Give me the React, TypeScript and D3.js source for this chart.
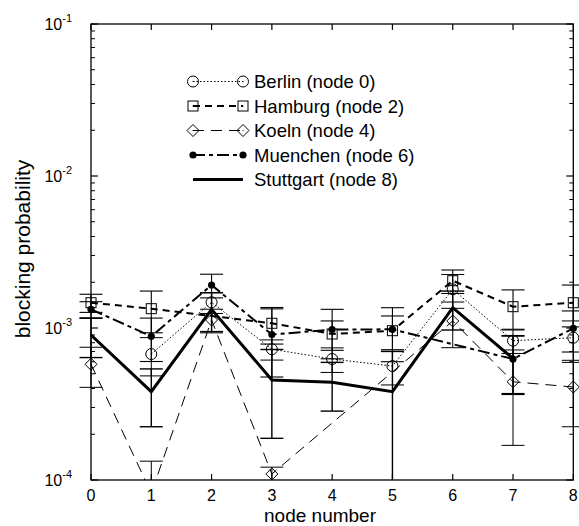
import React from "react";
import * as d3 from "d3";

const nodes = [0, 1, 2, 3, 4, 5, 6, 7, 8];
const berlin = [null, 6.74e-4, 1.476e-3, 7.25e-4, 6.25e-4, 5.62e-4, 1.797e-3, 8.25e-4, 8.63e-4];
const berlinErr = [null, 1.9e-4, 2.3e-4, 1.1e-4, 1.15e-4, 1.4e-4, 4.5e-4, 1.45e-4, 2.5e-4];
const hamburg = [1.467e-3, 1.34e-3, null, 1.074e-3, 9.13e-4, 9.6e-4, 2.047e-3, 1.381e-3, 1.467e-3];
const hamburgErr = [2.0e-4, 4.1e-4, null, 2.9e-4, 2.0e-4, 2.4e-4, 3.6e-4, 4.0e-4, 4.5e-4];
const koeln = [5.77e-4, 8.2e-5, 1.129e-3, 1.095e-4, null, null, 1.112e-3, 4.43e-4, 4.09e-4];
const koelnErr = [1.7e-4, 5.1e-5, 2.0e-4, 1.2e-5, null, null, 3.7e-4, 2.74e-4, 1.85e-4];
const muenchen = [1.327e-3, 8.82e-4, 1.918e-3, 9.06e-4, 9.77e-4, 9.8e-4, null, 6.25e-4, 9.95e-4];
const muenchenErr = [1.62e-4, 2.8e-4, 3.4e-4, 4.3e-4, 3.5e-4, 3.8e-4, null, 2.6e-4, 3.0e-4];
const stuttgart = [8.99e-4, 3.81e-4, 1.327e-3, 4.55e-4, 4.39e-4, 3.81e-4, 1.36e-3, 6.3e-4, null];
const stuttgartErr = [2.6e-4, 1.57e-4, 3.8e-4, 2.67e-4, 1.55e-4, 3.2e-4, 3.9e-4, 2.6e-4, null];

const seriesNames = ["Berlin (node 0)", "Hamburg (node 2)", "Koeln (node 4)", "Muenchen (node 6)", "Stuttgart (node 8)"];
const yTickExps = [-4, -3, -2, -1];
const xLabel = "node number";
const yLabel = "blocking probability";

const W = 579, H = 526;
const L = 91, R = 573.3, T = 24, B = 480;
const FONT = "'Liberation Sans', Arial, Helvetica, sans-serif";

type Style = { marker: string; width: number; dash: string | null; errW: number };
const styles: Style[] = [
  { marker: "circle", width: 1, dash: "1.5,2", errW: 1 },
  { marker: "square", width: 2, dash: "7,5", errW: 1.1 },
  { marker: "diamond", width: 1, dash: "11,7", errW: 1 },
  { marker: "dot", width: 2, dash: "12,4,4,4", errW: 1.1 },
  { marker: "none", width: 3, dash: null, errW: 1.4 },
];
const seriesVals = [berlin, hamburg, koeln, muenchen, stuttgart];
const seriesErrs = [berlinErr, hamburgErr, koelnErr, muenchenErr, stuttgartErr];

function Marker({ type, x, y }: { type: string; x: number; y: number }) {
  if (type === "circle")
    return (
      <g>
        <circle cx={x} cy={y} r={5.5} fill="none" stroke="#000" strokeWidth={1} />
        <circle cx={x} cy={y} r={0.6} fill="#000" />
      </g>
    );
  if (type === "square")
    return (
      <g>
        <rect x={x - 5} y={y - 5} width={10} height={10} fill="none" stroke="#000" strokeWidth={1} />
        <circle cx={x} cy={y} r={0.6} fill="#000" />
      </g>
    );
  if (type === "diamond")
    return (
      <g>
        <path d={`M${x - 6},${y}L${x},${y - 6}L${x + 6},${y}L${x},${y + 6}Z`} fill="none" stroke="#000" strokeWidth={1} />
        <circle cx={x} cy={y} r={0.6} fill="#000" />
      </g>
    );
  if (type === "dot") return <circle cx={x} cy={y} r={3.6} fill="#000" />;
  return null;
}

export default function App() {
  const x = d3.scaleLinear().domain([0, 8]).range([L, R]);
  const y = d3.scaleLog().domain([1e-4, 1e-1]).range([B, T]);

  const minorTicks: number[] = [];
  for (let e = -4; e < -1; e++) for (let m = 2; m <= 9; m++) minorTicks.push(m * Math.pow(10, e));

  const line = d3
    .line<{ n: number; v: number }>()
    .x((d) => x(d.n))
    .y((d) => y(d.v));

  const legendRows = [81.5, 106, 130.5, 155, 179.5];

  return (
    <svg width={W} height={H} style={{ position: "absolute", left: 0, top: 0, background: "#fff" }} fontFamily={FONT}>
      <defs>
        <clipPath id="plotclip">
          <rect x={0} y={T} width={W} height={B - T} />
        </clipPath>
      </defs>
      <rect x={0} y={0} width={W} height={H} fill="#fff" />

      {/* series */}
      <g clipPath="url(#plotclip)">
        {seriesVals.map((vals, si) => {
          const st = styles[si];
          const errs = seriesErrs[si];
          const pts = nodes
            .map((n, i) => ({ n, v: vals[i] as number | null, e: errs[i] as number | null }))
            .filter((d) => d.v != null) as { n: number; v: number; e: number }[];
          return (
            <g key={si}>
              {pts.map((d, i) => {
                const yh = y(d.v + d.e);
                const lo = d.v - d.e;
                const yl = lo > 1e-6 ? y(lo) : B + 40;
                const cx = x(d.n);
                return (
                  <g key={i} stroke="#000" strokeWidth={st.errW}>
                    <line x1={cx} x2={cx} y1={yh} y2={yl} />
                    <line x1={cx - 11.5} x2={cx + 11.5} y1={yh} y2={yh} />
                    <line x1={cx - 11.5} x2={cx + 11.5} y1={yl} y2={yl} />
                  </g>
                );
              })}
              <path
                d={line(pts) || ""}
                fill="none"
                stroke="#000"
                strokeWidth={st.width}
                strokeDasharray={st.dash || undefined}
                strokeLinejoin="miter"
              />
              {pts.map((d, i) => (
                <Marker key={i} type={st.marker} x={x(d.n)} y={y(d.v)} />
              ))}
            </g>
          );
        })}
      </g>

      {/* axes box */}
      <rect x={L} y={T} width={R - L} height={B - T} fill="none" stroke="#000" strokeWidth={1.3} />
      {yTickExps.map((e) => {
        const yy = y(Math.pow(10, e));
        return (
          <g key={e} stroke="#000" strokeWidth={1.2}>
            <line x1={L} x2={L + 7} y1={yy} y2={yy} />
            <line x1={R} x2={R - 7} y1={yy} y2={yy} />
          </g>
        );
      })}
      {minorTicks.map((v, i) => {
        const yy = y(v);
        return (
          <g key={i} stroke="#000" strokeWidth={1}>
            <line x1={L} x2={L + 4} y1={yy} y2={yy} />
            <line x1={R} x2={R - 4} y1={yy} y2={yy} />
          </g>
        );
      })}
      {nodes.map((n) => (
        <g key={n} stroke="#000" strokeWidth={1.2}>
          <line x1={x(n)} x2={x(n)} y1={B} y2={B - 6} />
          <line x1={x(n)} x2={x(n)} y1={T} y2={T + 6} />
        </g>
      ))}

      {/* tick labels */}
      {yTickExps.map((e) => (
        <text key={e} x={72} y={y(Math.pow(10, e)) + 6} textAnchor="end" fontSize={16} fill="#000">
          10
          <tspan dy={-8} fontSize={11}>
            {String(e)}
          </tspan>
        </text>
      ))}
      {nodes.map((n) => (
        <text key={n} x={x(n)} y={500.5} textAnchor="middle" fontSize={16} fill="#000">
          {n}
        </text>
      ))}

      {/* axis titles */}
      <text x={320} y={521.5} textAnchor="middle" fontSize={19} fill="#000">
        {xLabel}
      </text>
      <text transform={`translate(30,249) rotate(-90)`} textAnchor="middle" fontSize={21} fill="#000">
        {yLabel}
      </text>

      {/* legend */}
      {seriesNames.map((name, si) => {
        const st = styles[si];
        const ry = legendRows[si];
        return (
          <g key={si}>
            <line
              x1={193}
              x2={243}
              y1={ry}
              y2={ry}
              stroke="#000"
              strokeWidth={st.width}
              strokeDasharray={st.dash || undefined}
            />
            <Marker type={st.marker} x={193} y={ry} />
            <Marker type={st.marker} x={243} y={ry} />
            <text x={254} y={ry + 6.5} fontSize={18.5} fill="#000">
              {name}
            </text>
          </g>
        );
      })}
    </svg>
  );
}
